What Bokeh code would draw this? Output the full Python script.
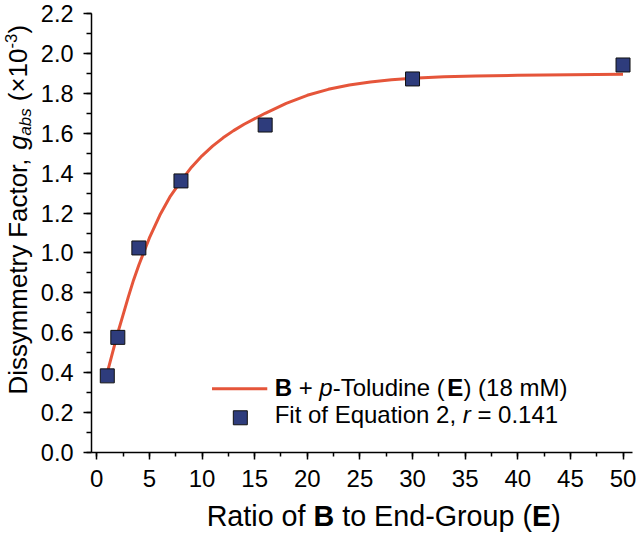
import math
from bokeh.plotting import figure
from bokeh.layouts import row, column
from bokeh.models import Range1d, SingleIntervalTicker, NumeralTickFormatter, Label
from bokeh.embed import file_html
from bokeh.resources import INLINE

# ---- data ----
ratio = [1, 2, 4, 8, 16, 30, 50]
g_abs = [0.384, 0.577, 1.025, 1.361, 1.641, 1.872, 1.942]

curve_x = [1, 1.5, 2, 2.5, 3, 3.5, 4, 5, 6, 7, 8, 9, 10, 11, 12, 13, 14, 16, 18,
           20, 22, 24, 26, 28, 30, 33, 36, 40, 45, 50]
curve_y = [0.40, 0.50, 0.60, 0.69, 0.78, 0.865, 0.94, 1.075, 1.19, 1.285, 1.36, 1.43,
           1.487, 1.535, 1.577, 1.613, 1.645, 1.700, 1.750, 1.790, 1.820, 1.842, 1.857,
           1.868, 1.876, 1.883, 1.887, 1.890, 1.893, 1.895]

NB = "\u00a0"
legend_line_label = [("B", "bold"), (NB + "+" + NB, "normal"), ("p", "italic"),
                     ("-Toludine" + NB + "(", "normal"), ("E", "bold"), (")" + NB + "(18 mM)", "normal")]
legend_marker_label = [("Fit of Equation 2," + NB, "normal"), ("r", "italic"),
                       (NB + "= 0.141", "normal")]
x_title = [("Ratio of" + NB, "normal"), ("B", "bold"), (NB + "to End-Group" + NB + "(", "normal"),
           ("E", "bold"), (")", "normal")]
y_title = [("Dissymmetry Factor," + NB, "normal", 0), ("g", "italic", 0), ("abs", "italic", -1),
           (NB + "(\u00d710", "normal", 0), ("-3", "normal", 1), (")", "normal", 0)]

LINE_COLOR = "#E5553A"
SQ_COLOR = "#2E3C7C"
FONT = "Liberation Sans"
BASE_FIX = 0.35   # Bokeh draws "alphabetic" labels this fraction of the size too low

# Arial / Liberation Sans advance widths (per 1000 em)
W = {' ': 278, NB: 278, '(': 333, ')': 333, '+': 584, ',': 278, '-': 333, '.': 278, '=': 584,
     '\u00d7': 584, 'A': 667, 'B': 667, 'C': 722, 'D': 722, 'E': 667, 'F': 611, 'G': 778,
     'M': 833, 'R': 722, 'T': 611, 'a': 556, 'b': 556, 'c': 500, 'd': 556, 'e': 556,
     'f': 278, 'g': 556, 'i': 222, 'l': 222, 'm': 833, 'n': 556, 'o': 556, 'p': 556,
     'q': 556, 'r': 333, 's': 500, 't': 278, 'u': 556, 'y': 500}
for d in "0123456789":
    W[d] = 556
WB = dict(W)
WB.update({'B': 722, 'E': 667})


def text_width(s, style, size):
    tbl = WB if style == "bold" else W
    return sum(tbl.get(ch, 556) for ch in s) * size / 1000.0


def row_width(segments, size, sub_scale=0.65):
    tot = 0.0
    for seg in segments:
        shift = seg[2] if len(seg) > 2 else 0
        fs = size * (sub_scale if shift else 1.0)
        tot += text_width(seg[0], seg[1], fs)
    return tot


def rich_text(fig, segments, ax, ay, dx, dy, size, angle=0.0, sub_scale=0.65):
    """Lay out a row of styled text pieces starting at an anchor + pixel offset."""
    pos = 0.0
    for seg in segments:
        txt, style = seg[0], seg[1]
        shift = seg[2] if len(seg) > 2 else 0
        fs = size * (sub_scale if shift else 1.0)
        base = BASE_FIX * fs
        if shift < 0:
            base += -0.16 * size
        elif shift > 0:
            base += 0.42 * size
        if angle == 0:
            ox, oy = dx + pos, dy + base
        else:
            ox, oy = dx - base, dy + pos
        fig.add_layout(Label(x=ax, y=ay, x_units="data", y_units="data",
                             x_offset=ox, y_offset=oy, text=txt, angle=angle,
                             text_font=FONT, text_font_size=f"{fs:.1f}px",
                             text_font_style=style, text_color="black",
                             text_align="left", text_baseline="alphabetic"))
        pos += text_width(txt, style, fs)
    return pos


def blank_fig(w, h):
    f = figure(width=w, height=h, output_backend="svg", toolbar_location=None,
               x_range=Range1d(0, w), y_range=Range1d(0, h),
               x_axis_location=None, y_axis_location=None,
               min_border_left=0, min_border_right=0, min_border_top=0, min_border_bottom=0)
    f.outline_line_color = None
    f.xgrid.visible = False
    f.ygrid.visible = False
    f.border_fill_color = "white"
    f.background_fill_color = "white"
    return f


TOTAL_W, TOTAL_H = 636, 532
YT_W = 37
XT_H = 40
MW = TOTAL_W - YT_W
MH = TOTAL_H - XT_H
BL, BR, BT, BB = 52, 4, 13, 40

p = figure(width=MW, height=MH, output_backend="svg", toolbar_location=None,
           x_range=Range1d(-0.5, 50.9), y_range=Range1d(0, 2.2),
           min_border_left=BL, min_border_right=BR, min_border_top=BT, min_border_bottom=BB)
p.outline_line_color = None
p.xgrid.visible = False
p.ygrid.visible = False
p.background_fill_color = "white"
p.border_fill_color = "white"

p.xaxis.ticker = SingleIntervalTicker(interval=5, num_minor_ticks=2)
p.yaxis.ticker = SingleIntervalTicker(interval=0.2, num_minor_ticks=2)
p.yaxis.formatter = NumeralTickFormatter(format="0.0")
p.xaxis.formatter = NumeralTickFormatter(format="0")
for ax in (p.xaxis, p.yaxis):
    ax.axis_line_width = 1.5
    ax.axis_line_color = "black"
    ax.major_tick_line_width = 1.5
    ax.minor_tick_line_width = 1.5
    ax.major_tick_line_color = "black"
    ax.minor_tick_line_color = "black"
    ax.major_tick_in = 0
    ax.minor_tick_in = 0
    ax.major_label_text_font = FONT
    ax.major_label_text_color = "black"
p.xaxis.major_label_text_font_size = "24px"
p.yaxis.major_label_text_font_size = "23.5px"
p.xaxis.major_tick_out = 7
p.xaxis.minor_tick_out = 4
p.yaxis.major_tick_out = 8
p.yaxis.minor_tick_out = 5
p.xaxis.major_label_standoff = 10
p.yaxis.major_label_standoff = 10

# fitted curve and measured points
p.line(curve_x, curve_y, line_color=LINE_COLOR, line_width=3)
p.scatter(ratio, g_abs, marker="square", size=14, fill_color=SQ_COLOR,
          line_color="#111111", line_width=1)

# legend (inside the frame)
lx0, lx1, ly = 10.95, 16.2, 0.319
p.line([lx0, lx1], [ly, ly], line_color=LINE_COLOR, line_width=3)
p.scatter([13.64], [0.174], marker="square", size=14, fill_color=SQ_COLOR,
          line_color="#111111", line_width=1)
ls = 24
rich_text(p, legend_line_label, 16.9, 0.286, 0, 0, ls)
rich_text(p, legend_marker_label, 16.9, 0.149, 0, 0, ls)

# x-axis title strip under the plot
xf = blank_fig(MW, XT_H)
xs = 28.7
xw = row_width(x_title, xs)
frame_cx = BL + (MW - BL - BR) / 2
rich_text(xf, x_title, frame_cx, 6, -xw / 2, 0, xs)

# y-axis title strip left of the plot
yf = blank_fig(YT_W, TOTAL_H)
ys = 25.9
rich_text(yf, y_title, 27, 138, 0, 0, ys, angle=math.pi / 2)

layout = row(yf, column(p, xf))
open("out.html", "w").write(file_html(layout, INLINE))
